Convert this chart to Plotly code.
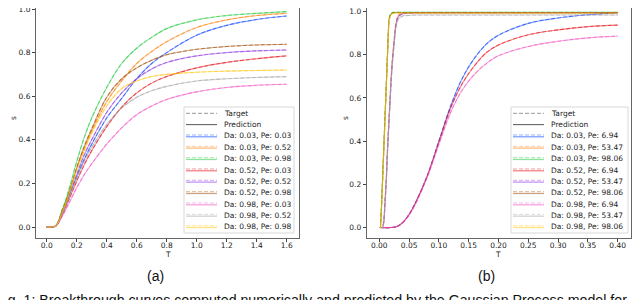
import plotly.graph_objects as go

# ---------------- data ----------------
da_values = [0.03, 0.52, 0.98]
pe_left = [0.03, 0.52, 0.98]
pe_right = [6.94, 53.47, 98.06]

colors = ["#023eff", "#ff7c00", "#1ac938", "#e8000b", "#8b2be2",
          "#9f4800", "#f14cc1", "#a3a3a3", "#ffc400"]

# panel (a): breakthrough curves, order: (Da, Pe) = (0.03,0.03), (0.03,0.52), ... (0.98,0.98)
T_a = [0, 0.04, 0.06, 0.08, 0.1, 0.12, 0.16, 0.2, 0.25, 0.3, 0.4, 0.5, 0.6, 0.7, 0.8, 1.0, 1.2, 1.4, 1.6]
s_a_blue = [0, 0, 0.005, 0.025, 0.06, 0.09, 0.16, 0.23, 0.31, 0.38, 0.50, 0.59, 0.68, 0.75, 0.80, 0.88, 0.925, 0.952, 0.968]
s_a_orange = [0, 0, 0.005, 0.028, 0.068, 0.10, 0.18, 0.27, 0.36, 0.44, 0.575, 0.67, 0.75, 0.805, 0.85, 0.915, 0.95, 0.97, 0.98]
s_a_green = [0, 0, 0.005, 0.03, 0.075, 0.11, 0.20, 0.30, 0.41, 0.50, 0.64, 0.75, 0.82, 0.87, 0.91, 0.95, 0.97, 0.98, 0.988]
s_a_red = [0, 0, 0.004, 0.022, 0.052, 0.08, 0.145, 0.21, 0.285, 0.35, 0.46, 0.55, 0.615, 0.66, 0.69, 0.73, 0.755, 0.772, 0.785]
s_a_purple = [0, 0, 0.005, 0.025, 0.06, 0.09, 0.165, 0.24, 0.33, 0.40, 0.525, 0.615, 0.68, 0.725, 0.755, 0.785, 0.80, 0.808, 0.812]
s_a_brown = [0, 0, 0.005, 0.028, 0.068, 0.10, 0.18, 0.27, 0.37, 0.45, 0.595, 0.68, 0.73, 0.765, 0.79, 0.815, 0.828, 0.835, 0.838]
s_a_pink = [0, 0, 0.004, 0.02, 0.045, 0.07, 0.125, 0.18, 0.24, 0.29, 0.38, 0.455, 0.515, 0.555, 0.585, 0.62, 0.64, 0.65, 0.655]
s_a_gray = [0, 0, 0.005, 0.024, 0.056, 0.085, 0.155, 0.225, 0.30, 0.365, 0.47, 0.545, 0.595, 0.625, 0.645, 0.67, 0.68, 0.686, 0.69]
s_a_yellow = [0, 0, 0.005, 0.027, 0.065, 0.095, 0.175, 0.26, 0.35, 0.43, 0.555, 0.635, 0.67, 0.69, 0.70, 0.71, 0.715, 0.718, 0.72]

# panel (b): slow curves (Pe 6.94) and fast curves (Pe 53.47, 98.06)
T_b_slow = [0, 0.02, 0.03, 0.04, 0.05, 0.06, 0.08, 0.10, 0.12, 0.14, 0.16, 0.18, 0.20, 0.25, 0.30, 0.35, 0.40]
s_b_blue = [0, 0, 0.005, 0.025, 0.06, 0.11, 0.235, 0.40, 0.565, 0.695, 0.785, 0.85, 0.89, 0.945, 0.97, 0.985, 0.995]
s_b_red = [0, 0, 0.005, 0.025, 0.06, 0.11, 0.235, 0.395, 0.555, 0.67, 0.75, 0.81, 0.845, 0.892, 0.915, 0.93, 0.937]
s_b_pink = [0, 0, 0.005, 0.024, 0.058, 0.105, 0.23, 0.385, 0.535, 0.64, 0.71, 0.76, 0.795, 0.838, 0.862, 0.878, 0.886]

T_b_fast = [0, 0.002, 0.004, 0.006, 0.008, 0.010, 0.012, 0.014, 0.016, 0.018, 0.020, 0.022, 0.024, 0.027, 0.030, 0.033, 0.04, 0.06, 0.4]
s_b_green = [0, 0, 0.12, 0.27, 0.40, 0.56, 0.73, 0.89, 0.96, 0.985, 0.992, 0.995, 0.996, 0.996, 0.996, 0.996, 0.996, 0.996, 0.996]
s_b_brown = [0, 0, 0.11, 0.26, 0.39, 0.55, 0.72, 0.88, 0.955, 0.98, 0.99, 0.993, 0.994, 0.995, 0.995, 0.995, 0.995, 0.995, 0.995]
s_b_yellow = [0, 0, 0.10, 0.25, 0.38, 0.54, 0.71, 0.87, 0.95, 0.975, 0.987, 0.99, 0.992, 0.993, 0.993, 0.993, 0.993, 0.993, 0.993]
s_b_orange = [0, 0, 0, 0, 0.04, 0.13, 0.24, 0.38, 0.50, 0.60, 0.70, 0.78, 0.85, 0.93, 0.97, 0.985, 0.993, 0.995, 0.995]
s_b_purple = [0, 0, 0, 0, 0.035, 0.12, 0.23, 0.37, 0.49, 0.59, 0.69, 0.77, 0.84, 0.92, 0.965, 0.98, 0.99, 0.994, 0.995]
s_b_gray = [0, 0, 0, 0, 0.03, 0.11, 0.22, 0.36, 0.48, 0.58, 0.68, 0.76, 0.83, 0.91, 0.955, 0.97, 0.98, 0.984, 0.984]

caption_a = "(a)"
caption_b = "(b)"
fig_caption = "Fig. 1: Breakthrough curves computed numerically and predicted by the Gaussian Process model for"

# ---------------- figure ----------------
# the page body has an 8px margin, so the figure starts at (8, 8) in the window
OFF = 8
W, H = 640 - OFF, 300 - OFF


def px(x):
    """window x pixel -> paper fraction"""
    return (x - OFF) / W


def py(y):
    """window y pixel -> paper fraction"""
    return 1 - (y - OFF) / H


def rgba(hexc, a):
    h = hexc.lstrip("#")
    r, g, b = int(h[0:2], 16), int(h[2:4], 16), int(h[4:6], 16)
    return f"rgba({r},{g},{b},{a})"


fig = go.Figure()

panel_a = [(T_a, s) for s in [s_a_blue, s_a_orange, s_a_green, s_a_red, s_a_purple,
                              s_a_brown, s_a_pink, s_a_gray, s_a_yellow]]
panel_b = [(T_b_slow, s_b_blue), (T_b_fast, s_b_orange), (T_b_fast, s_b_green),
           (T_b_slow, s_b_red), (T_b_fast, s_b_purple), (T_b_fast, s_b_brown),
           (T_b_slow, s_b_pink), (T_b_fast, s_b_gray), (T_b_fast, s_b_yellow)]

for panel, xa, ya in [(panel_a, "x", "y"), (panel_b, "x2", "y2")]:
    for i, (t, s) in enumerate(panel):
        shape = "linear" if t is T_b_fast else "spline"
        # prediction (solid)
        fig.add_trace(go.Scatter(x=t, y=s, mode="lines", xaxis=xa, yaxis=ya,
                                 line=dict(color=rgba(colors[i], 0.45), width=1.1, shape=shape),
                                 showlegend=False, hoverinfo="skip"))
        # target (dashed)
        fig.add_trace(go.Scatter(x=t, y=s, mode="lines", xaxis=xa, yaxis=ya,
                                 line=dict(color=rgba(colors[i], 0.55), width=1.1, dash="4px,2px", shape=shape),
                                 showlegend=False, hoverinfo="skip"))

tickfont = dict(family="DejaVu Sans", size=7.5, color="#222")
axis_common = dict(showgrid=False, zeroline=False, showline=True, linecolor="#666", linewidth=1,
                   ticks="outside", ticklen=3, tickwidth=0.8, tickcolor="#444", tickfont=tickfont,
                   ticklabeloverflow="allow")

# pixel geometry (window pixels): plot bottom at 238, top at window top (8 after offset)
top_px = OFF
bot_px = 238
# left panel: s=0 at y 227, 218 px per unit; right panel: s=0 at 227.5, 216 px per unit
ya_rng = [-(bot_px - 227) / 218, (227 - top_px) / 218]
yb_rng = [-(bot_px - 227.5) / 216, (227.5 - top_px) / 216]

fig.update_layout(
    width=W, height=H, margin=dict(l=0, r=0, t=0, b=0, autoexpand=False),
    paper_bgcolor="white", plot_bgcolor="white", showlegend=False,
    xaxis=dict(domain=[px(36), px(299)], range=[-0.0713, 1.682], tickvals=[0, 0.2, 0.4, 0.6, 0.8, 1.0, 1.2, 1.4, 1.6],
               tickformat=".1f", anchor="y", mirror=False, ticklabelstandoff=-3, **axis_common),
    yaxis=dict(domain=[py(bot_px), 1], range=ya_rng, tickvals=[0, 0.2, 0.4, 0.6, 0.8, 1.0],
               tickformat=".1f", anchor="x", mirror=True, **axis_common),
    xaxis2=dict(domain=[px(366.7), px(630.7)], range=[-0.0211, 0.4218],
                tickvals=[0, 0.05, 0.1, 0.15, 0.2, 0.25, 0.3, 0.35, 0.4],
                tickformat=".2f", anchor="y2", mirror=False, ticklabelstandoff=-3, **axis_common),
    yaxis2=dict(domain=[py(bot_px), 1], range=yb_rng, tickvals=[0, 0.2, 0.4, 0.6, 0.8, 1.0],
                tickformat=".1f", anchor="x2", mirror=True, **axis_common),
)

shapes = []
annotations = []
lab_font = dict(family="DejaVu Sans", size=7.5, color="#222")

# axis labels
for xs, ys_ in [(14, 118), (346, 118)]:
    annotations.append(dict(x=px(xs), y=py(ys_), xref="paper", yref="paper", text="s", showarrow=False,
                            textangle=-90, font=lab_font, xanchor="center", yanchor="middle"))
for xs in [167.5, 498]:
    annotations.append(dict(x=px(xs), y=py(254), xref="paper", yref="paper", text="T", showarrow=False,
                            font=lab_font, xanchor="center", yanchor="middle"))

# legends (drawn as boxes, sample lines and text)
def add_legend(box, line_x0, line_x1, text_x, pe_vals):
    bx0, by0, bx1, by1 = box
    shapes.append(dict(type="rect", xref="paper", yref="paper", x0=px(bx0), x1=px(bx1), y0=py(by1), y1=py(by0),
                       line=dict(color="#d8d8d8", width=1), fillcolor="rgba(255,255,255,0.85)", layer="above"))
    rows = [113.3 + k * 11.34 for k in range(11)]
    labels = ["Target", "Prediction"] + [f"Da: {d:.2f}, Pe: {p:.2f}" for d in da_values for p in pe_vals]
    for k, (yy, lab) in enumerate(zip(rows, labels)):
        if k == 0:
            shapes.append(dict(type="line", xref="paper", yref="paper", x0=px(line_x0), x1=px(line_x1),
                               y0=py(yy), y1=py(yy), line=dict(color="#999", width=1, dash="4px,2px"), layer="above"))
        elif k == 1:
            shapes.append(dict(type="line", xref="paper", yref="paper", x0=px(line_x0), x1=px(line_x1),
                               y0=py(yy), y1=py(yy), line=dict(color="#555", width=1), layer="above"))
        else:
            c = colors[k - 2]
            shapes.append(dict(type="line", xref="paper", yref="paper", x0=px(line_x0), x1=px(line_x1),
                               y0=py(yy - 1), y1=py(yy - 1), line=dict(color=rgba(c, 0.4), width=1, dash="4px,2px"),
                               layer="above"))
            shapes.append(dict(type="line", xref="paper", yref="paper", x0=px(line_x0), x1=px(line_x1),
                               y0=py(yy + 0.8), y1=py(yy + 0.8), line=dict(color=rgba(c, 0.5), width=1.3),
                               layer="above"))
        annotations.append(dict(x=px(text_x), y=py(yy), xref="paper", yref="paper", text=lab, showarrow=False,
                                font=lab_font, xanchor="left", yanchor="middle"))


add_legend((184, 107, 294, 233), 186, 217, 222, pe_left)
add_legend((511, 107, 628, 233), 513, 544, 549, pe_right)

# captions
cap_font = dict(family="Liberation Sans, Arial", size=14, color="#111")
annotations.append(dict(x=px(155), y=py(276), xref="paper", yref="paper", text=caption_a, showarrow=False,
                        font=cap_font, xanchor="center", yanchor="middle"))
annotations.append(dict(x=px(486), y=py(276), xref="paper", yref="paper", text=caption_b, showarrow=False,
                        font=cap_font, xanchor="center", yanchor="middle"))
annotations.append(dict(x=0, y=py(290), xref="paper", yref="paper", text=fig_caption, showarrow=False,
                        font=dict(family="Liberation Sans, Arial", size=14.2, color="#111"),
                        xanchor="left", yanchor="top", xshift=-14))

fig.update_layout(shapes=shapes, annotations=annotations)
fig.write_html("out.html")
